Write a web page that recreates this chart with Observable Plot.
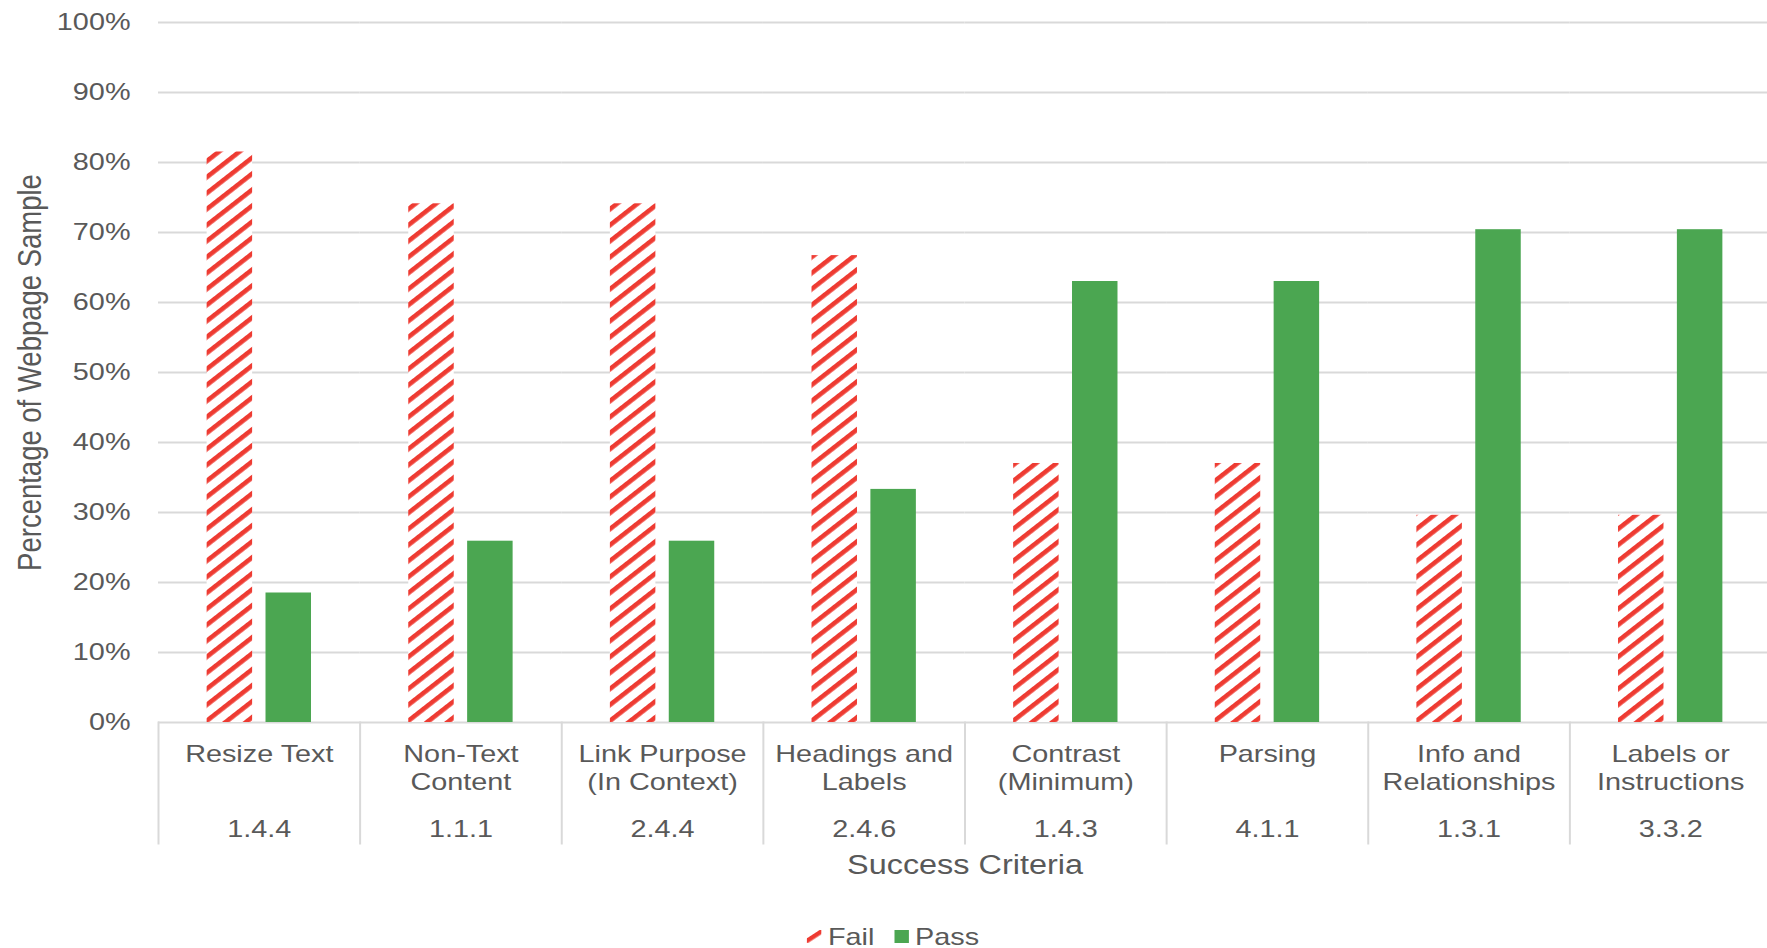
<!DOCTYPE html>
<html>
<head>
<meta charset="utf-8">
<script src="https://cdn.jsdelivr.net/npm/d3@7"></script>
<script src="https://cdn.jsdelivr.net/npm/@observablehq/plot@0.6"></script>
<style>
  html, body { margin: 0; padding: 0; background: #fff; overflow: hidden; }
  #chart svg { display: block; }
  #chart [aria-label="y-axis label"] text { font-size: 27.5px; }
  #chart [aria-label="fx-axis label"] text { font-size: 27px; }
  #legend { height: 48px; box-sizing: border-box; padding: 20px 0 0 40px; }
  #legend > div { display: flex; justify-content: center; align-items: center; margin: 0;
    transform: scaleX(1.2); transform-origin: center;
    font-family: 'Liberation Sans', Arial, sans-serif; font-size: 24px; color: #595959; }
  #legend > div > span { margin-right: 17px !important; }
  #legend > div > span > svg { margin-right: 5px !important; }
  #legend svg[fill="url(#hatch)"] rect { fill: url(#hatchLegend); }
</style>
</head>
<body>
<svg width="0" height="0" style="position:absolute">
  <defs>
    <pattern id="hatch" patternUnits="userSpaceOnUse" width="12.6" height="12.6" patternTransform="rotate(-38)">
      <rect width="12.6" height="12.6" fill="#ffffff"></rect>
      <rect width="12.6" height="4.6" fill="#EE3B32"></rect>
    </pattern>
    <pattern id="hatchLegend" patternUnits="userSpaceOnUse" width="40" height="40" patternTransform="translate(4.6,4.7) rotate(-38)">
      <rect width="40" height="40" fill="#ffffff"></rect>
      <rect width="40" height="4.2" fill="#EE3B32"></rect>
    </pattern>
  </defs>
</svg>
<div id="chart"></div>
<div id="legend"></div>
<script>
// ---- data ----
const categories = ["Resize Text", "Non-Text\nContent", "Link Purpose\n(In Context)", "Headings and\nLabels",
  "Contrast\n(Minimum)", "Parsing", "Info and\nRelationships", "Labels or\nInstructions"];
const codes = ["1.4.4", "1.1.1", "2.4.4", "2.4.6", "1.4.3", "4.1.1", "1.3.1", "3.3.2"];
const series = ["Fail", "Pass"];
const failValues = [0.815, 0.741, 0.741, 0.667, 0.370, 0.370, 0.296, 0.296];
const passValues = [0.185, 0.259, 0.259, 0.333, 0.630, 0.630, 0.704, 0.704];
const yTicks = [0, 0.1, 0.2, 0.3, 0.4, 0.5, 0.6, 0.7, 0.8, 0.9, 1];
const yTitle = "Percentage of Webpage Sample";
const xTitle = "Success Criteria";

const rows = [];
categories.forEach((c, i) => {
  rows.push({category: c, series: "Fail", value: failValues[i]});
  rows.push({category: c, series: "Pass", value: passValues[i]});
});

// ---- layout ----
const W = 1767, H = 900, mT = 22, mB = 178, mL = 158, mR = -4;
const plotH = H - mT - mB;
const grid = "#D9D9D9";
const textColor = "#595959";
const STRETCH = 1.2; // the source chart's text is horizontally stretched

const chart = Plot.plot({
  width: W,
  height: H,
  marginTop: mT,
  marginBottom: mB,
  marginLeft: mL,
  marginRight: mR,
  style: {fontFamily: "'Liberation Sans', Arial, sans-serif", color: textColor, background: "#fff", overflow: "visible"},
  fx: {domain: categories, paddingInner: 0, paddingOuter: 0, round: false},
  x: {domain: series, paddingInner: 0.2275, paddingOuter: 0.826, round: false, axis: null},
  y: {domain: [0, 1]},
  color: {domain: series, range: ["url(#hatch)", "#4BA651"]},
  marks: [
    Plot.ruleY(yTicks, {stroke: grid, strokeWidth: 2}),
    Plot.frame({anchor: "left", stroke: grid, strokeWidth: 2, insetTop: plotH, insetBottom: -121}),
    Plot.barY(rows, {fx: "category", x: "series", y: "value", fill: "series"}),
    Plot.axisY({
      ticks: yTicks, tickFormat: d => Math.round(d * 100) + "%", tickSize: 0, tickPadding: 28,
      fontSize: 24, fill: textColor,
      label: yTitle, labelAnchor: "center", labelArrow: "none", labelOffset: 141
    }),
    Plot.axisFx({
      anchor: "bottom", tickSize: 0, tickPadding: 19.5, fontSize: 24, lineHeight: 1.18, fill: textColor,
      label: xTitle, labelAnchor: "center", labelArrow: "none", labelOffset: 151
    }),
    Plot.axisFx({
      anchor: "bottom", tickSize: 0, tickPadding: 97.7, fontSize: 24, fill: textColor,
      tickFormat: d => codes[categories.indexOf(d)], label: null
    })
  ]
});
document.getElementById("chart").appendChild(chart);

// widen glyphs like the source (text stays real text)
d3.select(chart).selectAll("text").each(function () {
  if (this.closest('[aria-label="y-axis label"]')) {
    const tr = this.getAttribute("transform") || "";
    this.setAttribute("transform", tr + " scale(1," + STRETCH + ")");
    return;
  }
  const tspans = this.querySelectorAll("tspan");
  const targets = tspans.length ? Array.from(tspans) : [this];
  for (const t of targets) {
    const len = t.getComputedTextLength();
    if (len > 0) {
      t.setAttribute("textLength", (len * STRETCH).toFixed(2));
      t.setAttribute("lengthAdjust", "spacingAndGlyphs");
    }
  }
});

const legend = chart.legend("color", {swatchWidth: 12, swatchHeight: 13});
document.getElementById("legend").appendChild(legend);
</script>
</body>
</html>
